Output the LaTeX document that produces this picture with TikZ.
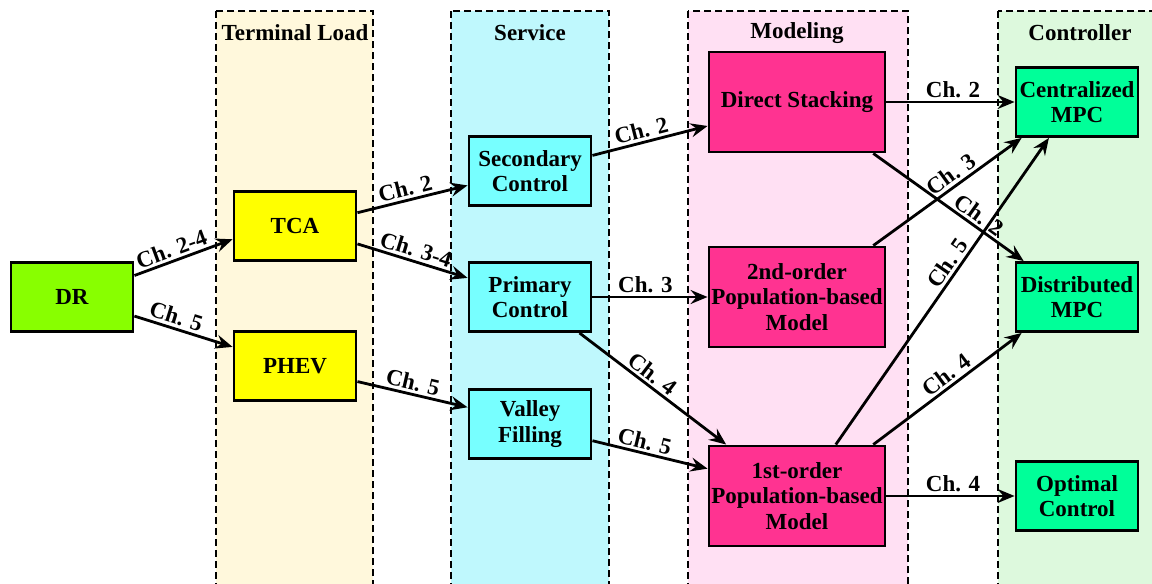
\documentclass[tikz,border=0pt]{standalone}
\usepackage{fontspec}
\setmainfont{Liberation Serif}
\usetikzlibrary{arrows.meta}

\definecolor{loadbg}{HTML}{FFF8DC}
\definecolor{servbg}{HTML}{BFF8FD}
\definecolor{modbg}{HTML}{FFE0F3}
\definecolor{ctrlbg}{HTML}{DDF9DD}
\definecolor{drfill}{HTML}{88FF00}
\definecolor{loadfill}{HTML}{FFFF00}
\definecolor{servfill}{HTML}{77FFFF}
\definecolor{modfill}{HTML}{FF3391}
\definecolor{ctrlfill}{HTML}{00FF99}

\begin{document}
\begin{tikzpicture}[x=1pt,y=-1pt,
  font=\fontsize{23}{25.5}\selectfont\bfseries,
  box/.style={draw=black, line width=2.9pt, align=center,
    minimum width=122pt, minimum height=69pt, inner sep=2pt},
  bigbox/.style={box, minimum width=176pt, minimum height=100pt},
  lane/.style={draw=black, line width=1.3pt, dash pattern=on 7pt off 4pt},
  lanetitle/.style={anchor=center},
  link/.style={line width=2.8pt, -{Stealth[length=17pt,width=14pt,inset=6pt]}},
  tag/.style={sloped, above, inner sep=2.5pt}
]
\useasboundingbox (0,0) rectangle (1152,584);
\clip (0,0) rectangle (1152,584);

% column backgrounds
\draw[lane, fill=loadbg] (216,11) rectangle (373,600);
\draw[lane, fill=servbg] (451,11) rectangle (609,600);
\draw[lane, fill=modbg]  (688,11) rectangle (908,600);
\draw[lane, fill=ctrlbg] (998,11) rectangle (1170,600);

\node[lanetitle] (tLoad) at (295,33) {Terminal Load};
\node[lanetitle] (tServ) at (530,33) {Service};
\node[lanetitle] (tMod)  at (797,33) {Modeling};
\node[lanetitle] (tCtrl) at (1080,33) {Controller};

% boxes
\node[box, fill=drfill]   (dr)   at (72,297)  {DR};
\node[box, fill=loadfill] (tca)  at (295,226) {TCA};
\node[box, fill=loadfill] (phev) at (295,366) {PHEV};
\node[box, fill=servfill] (sec)  at (530,171) {Secondary\\Control};
\node[box, fill=servfill] (prim) at (530,297) {Primary\\Control};
\node[box, fill=servfill] (vall) at (530,424) {Valley\\Filling};
\node[bigbox, fill=modfill] (ds)  at (797,102) {Direct Stacking};
\node[bigbox, fill=modfill] (pop2) at (797,297) {2nd-order\\Population-based\\Model};
\node[bigbox, fill=modfill] (pop1) at (797,496) {1st-order\\Population-based\\Model};
\node[box, fill=ctrlfill] (cmpc) at (1077,102) {Centralized\\MPC};
\node[box, fill=ctrlfill] (dmpc) at (1077,297) {Distributed\\MPC};
\node[box, fill=ctrlfill] (opt)  at (1077,496) {Optimal\\Control};

% connectors
\draw[link] (dr.19.5) -- node[tag, pos=0.42] {Ch. 2-4} (tca.192.6);
\draw[link] (dr.-17.9) -- node[tag, pos=0.39] {Ch. 5} (phev.163.1);
\draw[link] (tca.12.6) -- node[tag, pos=0.46] {Ch. 2} (sec.193.5);
\draw[link] (tca.-16.9) -- node[tag, pos=0.5] {Ch. 3-4} (prim.163.1);
\draw[link] (phev.-14.3) -- node[tag, pos=0.48] {Ch. 5} (vall.165.6);
\draw[link] (sec.14.4) -- node[tag, pos=0.45] {Ch. 2} (ds.195.6);
\draw[link] (prim.east) -- node[tag, pos=0.46] {Ch. 3} (pop2.west);
\draw[link] (prim.-36.9) -- node[tag, pos=0.45] {Ch. 4} (pop1.144.4);
\draw[link] (vall.-15.2) -- node[tag, pos=0.43] {Ch. 5} (pop1.163.8);
\draw[link] (ds.east) -- node[tag, pos=0.52] {Ch. 2} (cmpc.west);
\draw[link] (ds.-34.1) -- node[tag, pos=0.66] {Ch. 2} (dmpc.146.7);
\draw[link] (pop2.34.5) -- node[tag, pos=0.57] {Ch. 3} (cmpc.213.3);
\draw[link] (pop1.53.6) -- node[tag, pos=0.57] {Ch. 5} (cmpc.232.7);
\draw[link] (pop1.34.5) -- node[tag, pos=0.54] {Ch. 4} (dmpc.213.3);
\draw[link] (pop1.east) -- node[tag, pos=0.52] {Ch. 4} (opt.west);
\end{tikzpicture}
\end{document}
